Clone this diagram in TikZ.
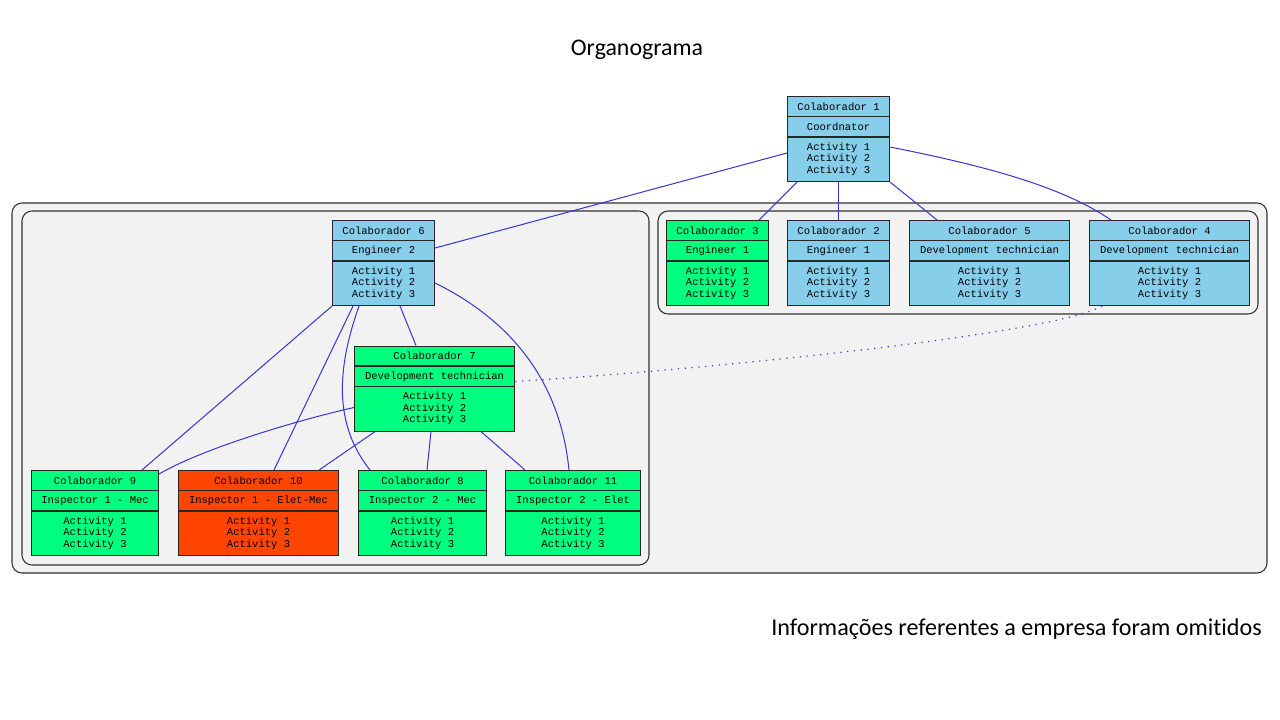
\documentclass[tikz,border=0pt]{standalone}
\usepackage{fontspec}
\setmainfont{Carlito}[Ligatures=NoCommon]
\newfontfamily\monof{Liberation Mono}
\usetikzlibrary{calc}
\definecolor{skyb}{HTML}{87CEEB}
\definecolor{sprg}{HTML}{00FF7F}
\definecolor{ored}{HTML}{FF4500}
\definecolor{edgeb}{HTML}{3535D5}
\definecolor{clfill}{HTML}{F2F2F2}
\definecolor{clline}{HTML}{333333}
\tikzset{
  obox/.style={draw=black!85, line width=0.8pt, inner sep=0pt, rectangle},
  otxt/.style={inner sep=0pt, font=\monof\fontsize{7.9}{8.5}\selectfont, align=center},
  sep/.style={draw=black!85, line width=0.8pt},
  cluster/.style={draw=clline, fill=clfill, line width=0.8pt, rounded corners=7.5pt},
  link/.style={draw=edgeb, line width=0.75pt},
  dotlink/.style={draw=edgeb, line width=0.9pt, dash pattern=on 0.9pt off 4.2pt},
  ttl/.style={inner sep=0pt, font=\fontsize{17.9}{20}\selectfont},
  note/.style={inner sep=0pt, font=\fontsize{18.1}{20}\selectfont}
}
\newcommand\orgbox[7]{%
  \node[obox, fill=#5, minimum width=#4*0.75pt, minimum height=85*0.75pt, anchor=north west] (#1) at (#2,#3) {};
  \draw[sep] ($(#1.north west)+(0,20.5)$) -- ($(#1.north east)+(0,20.5)$);
  \draw[sep] ($(#1.north west)+(0,41)$) -- ($(#1.north east)+(0,41)$);
  \node[otxt] (#1t) at ($(#1.north)+(0,10.5)$) {#6};
  \node[otxt] (#1r) at ($(#1.north)+(0,31)$) {#7};
  \node[otxt] (#1a) at ($(#1.north)+(0,63)$) {Activity 1\\Activity 2\\Activity 3};
}
\begin{document}
\begin{tikzpicture}[x=0.75pt, y=-0.75pt]
\useasboundingbox[fill=white] (0,0) rectangle (1280,720);
% titles
\node[ttl] (title) at (637,50) {Organograma};
\node[note, anchor=east] (notetext) at (1262,629) {Informações referentes a empresa foram omitidos};
% clusters
\draw[cluster] (12,203) rectangle (1267,573);
\draw[cluster] (22,211) rectangle (649,565);
\draw[cluster] (658,211) rectangle (1258,314);
% boxes
\orgbox{c1}{787}{96}{102}{skyb}{Colaborador 1}{Coordnator}
\orgbox{c3}{666}{220}{102}{sprg}{Colaborador 3}{Engineer 1}
\orgbox{c2}{787}{220}{102}{skyb}{Colaborador 2}{Engineer 1}
\orgbox{c5}{909}{220}{160}{skyb}{Colaborador 5}{Development technician}
\orgbox{c4}{1089}{220}{160}{skyb}{Colaborador 4}{Development technician}
\orgbox{c6}{332}{220}{102}{skyb}{Colaborador 6}{Engineer 2}
\orgbox{c7}{354}{345.5}{160}{sprg}{Colaborador 7}{Development technician}
\orgbox{c9}{31}{470}{127}{sprg}{Colaborador 9}{Inspector 1 - Mec}
\orgbox{c10}{178}{470}{160}{ored}{Colaborador 10}{Inspector 1 - Elet-Mec}
\orgbox{c8}{358}{470}{128}{sprg}{Colaborador 8}{Inspector 2 - Mec}
\orgbox{c11}{505}{470}{135}{sprg}{Colaborador 11}{Inspector 2 - Elet}
% connectors from c1
\draw[link] ($(c1.north west)+(0,57)$) -- ($(c6.north east)+(0,28)$);
\draw[link] ($(c1.south west)+(10,0)$) -- ($(c3.north east)+(-10,0)$);
\draw[link] (c1.south) -- (c2.north);
\draw[link] (c1.south east) -- ($(c5.north west)+(28,0)$);
\draw[link] ($(c1.north east)+(0,51)$) .. controls (980,165) and (1060,185) .. ($(c4.north west)+(22,0)$);
% connectors from c6
\draw[link] (c6.south west) -- ($(c9.north west)+(111,0)$);
\draw[link] ($(c6.south west)+(21,0)$) -- ($(c10.north west)+(96,0)$);
\draw[link] ($(c6.south west)+(27,0)$) .. controls (340,360) and (330,420) .. ($(c8.north west)+(12,0)$);
\draw[link] ($(c6.south west)+(68,0)$) -- ($(c7.north west)+(62,0)$);
\draw[link] ($(c6.north east)+(0,63)$) .. controls (510,320) and (560,380) .. ($(c11.north west)+(64,0)$);
% connectors from c7
\draw[link] ($(c7.north west)+(0,62)$) .. controls (290,422) and (200,450) .. ($(c9.north east)+(0,4)$);
\draw[link] ($(c7.south west)+(21,0)$) -- ($(c10.north east)+(-20,0)$);
\draw[link] ($(c7.south west)+(77,0)$) -- ($(c8.north west)+(69,0)$);
\draw[link] ($(c7.south west)+(127,0)$) -- ($(c11.north west)+(20,0)$);
% dotted c4 -> c7
\draw[dotlink] ($(c4.south west)+(13,0)$) .. controls (1050,335) and (700,370) .. ($(c7.north east)+(0,36)$);
\end{tikzpicture}
\end{document}
